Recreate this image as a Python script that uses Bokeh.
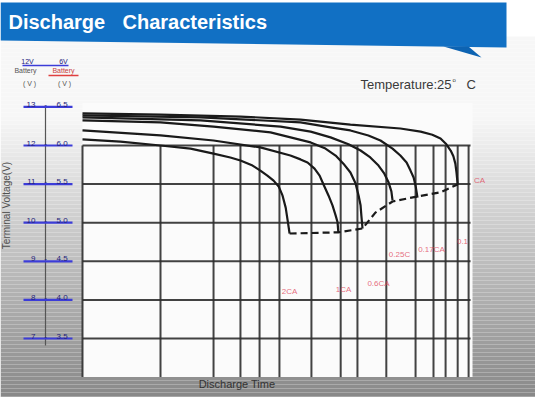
from bokeh.plotting import figure
from bokeh.models import Range1d
from bokeh.core.properties import value
from bokeh.embed import file_html
from bokeh.resources import INLINE

# ---------------- data ----------------
# voltage scale (12V battery) and matching 6V battery labels
volt_12v = [13, 12, 11, 10, 9, 8, 7]
label_12v = ["13", "12", "11", "10", "9", "8", "7"]
label_6v = ["6.5", "6.0", "5.5", "5.0", "4.5", "4.0", "3.5"]
grid_volts = [12, 11, 10, 9, 8, 7]

# discharge-time grid (relative log-time position, 0..100)
time_grid = [20, 33.6, 40.5, 45.4, 50.5, 58.7, 66.2, 70.5, 77.9, 85.4, 90, 93.1, 96.2, 99]

# discharge curves: time position / terminal voltage (12V battery)
t_2ca = [0, 9.7, 20, 27.7, 33.6, 37.9, 40.5, 43.6, 45.6, 47.4, 49.0, 50.3, 51.3, 52.1, 52.6, 53.1]
v_2ca = [12.16, 12.10, 12.0, 11.92, 11.79, 11.69, 11.61, 11.48, 11.35, 11.22, 11.09, 10.94, 10.70, 10.39, 10.06, 9.72]
t_1ca = [0, 20, 33.6, 45.6, 53.3, 55.9, 57.7, 59.5, 60.8, 61.8, 63.1, 64.1, 64.9, 65.4, 65.6]
v_1ca = [12.39, 12.26, 12.13, 11.95, 11.74, 11.64, 11.56, 11.40, 11.22, 10.99, 10.70, 10.45, 10.19, 10.01, 9.75]
t_06ca = [0, 20, 33.6, 48.2, 58.5, 62.3, 64.9, 66.9, 68.7, 70.0, 70.8, 71.3, 71.5, 71.8]
v_06ca = [12.65, 12.60, 12.49, 12.34, 12.08, 11.92, 11.74, 11.53, 11.30, 11.02, 10.70, 10.45, 10.19, 9.85]
t_025ca = [0, 30.3, 50.8, 58.5, 63.6, 68.2, 71.3, 73.8, 75.9, 77.4, 78.5, 79.2, 79.5]
v_025ca = [12.73, 12.65, 12.49, 12.36, 12.21, 12.03, 11.87, 11.69, 11.48, 11.27, 11.04, 10.81, 10.58]
t_017ca = [0, 30.3, 55.9, 63.6, 68.7, 73.3, 76.4, 79.5, 81.5, 83.1, 84.1, 84.9, 85.4, 85.9]
v_017ca = [12.78, 12.73, 12.60, 12.47, 12.39, 12.26, 12.13, 11.92, 11.74, 11.56, 11.35, 11.17, 10.96, 10.65]
t_01ca = [0, 20, 40.5, 55.9, 68.7, 81.5, 86.7, 89.7, 91.8, 93.3, 94.4, 95.1, 95.6, 95.9, 96.2]
v_01ca = [12.83, 12.80, 12.75, 12.67, 12.54, 12.44, 12.36, 12.28, 12.18, 12.03, 11.87, 11.72, 11.53, 11.30, 10.99]

# final discharge voltage (dashed)
t_final = [53.1, 65.6, 71.8, 75.1, 79.5, 85.9, 91.8, 96.2]
v_final = [9.72, 9.75, 9.85, 10.26, 10.55, 10.68, 10.79, 10.99]

# curve labels
rate_labels = ["2CA", "1CA", "0.6CA", "0.25C", "0.17CA", "0.1", "CA"]

# ---------------- layout helpers (picture pixel -> data) ----------------
def ux(px):
    return (px - 82) / 3.9

def vy(py):
    return 12 - (py - 145) / 38.6

W, H = 535, 397
p = figure(width=W, height=H, output_backend="svg", toolbar_location=None,
           x_range=Range1d(ux(0), ux(W)), y_range=Range1d(vy(H), vy(0)),
           x_axis_type=None, y_axis_type=None, min_border=0)
p.outline_line_color = None
p.background_fill_color = "white"
p.border_fill_color = "white"
p.grid.visible = False

FONT = value("Liberation Sans")

# background gradient
strip_l, strip_r, strip_t, strip_b, strip_c = [], [], [], [], []
y = 36
while y < 400:
    if y < 115:
        g = 247
    else:
        g = int(247 - (y - 115) * (247 - 136) / (397 - 115))
    strip_l.append(ux(0)); strip_r.append(ux(540))
    strip_t.append(vy(y)); strip_b.append(vy(y + 4))
    strip_c.append("#%02x%02x%02x" % (g, g, g))
    y += 4
p.quad(left=strip_l, right=strip_r, top=strip_t, bottom=strip_b, fill_color=strip_c, line_color=None)

# banner
p.patch([ux(0), ux(506), ux(506), ux(0)], [vy(2), vy(2), vy(47), vy(40)],
        fill_color="#1170c4", line_color=None)
p.patch([ux(443), ux(481), ux(468)], [vy(46), vy(57), vy(46)],
        fill_color="#0d63b2", line_color=None)
p.text(x=[ux(8)], y=[vy(21)], text=["Discharge"], text_color="white",
       text_font=FONT, text_font_style="bold",
       text_font_size="20px", text_baseline="middle", text_align="left")
p.text(x=[ux(122)], y=[vy(21)], text=["Characteristics"], text_color="white",
       text_font=FONT, text_font_style="bold",
       text_font_size="20px", text_baseline="middle", text_align="left")

# plot box
p.quad(left=[0], right=[100], top=[13.1], bottom=[6.0], fill_color="#fbfbfb", line_color=None)

# grid
p.segment(x0=[0] * len(grid_volts), x1=[99.5] * len(grid_volts), y0=grid_volts, y1=grid_volts,
          line_color="#2e2e2e", line_width=2, line_alpha=0.9)
p.segment(x0=[0] + time_grid, x1=[0] + time_grid, y0=[6.0] * (len(time_grid) + 1),
          y1=[12] * (len(time_grid) + 1), line_color="#2e2e2e", line_width=2, line_alpha=0.9)

# curves
for t, v in [(t_2ca, v_2ca), (t_1ca, v_1ca), (t_06ca, v_06ca),
             (t_025ca, v_025ca), (t_017ca, v_017ca), (t_01ca, v_01ca)]:
    p.line(t, v, line_color="#1a1a1a", line_width=2.2, line_join="round")
p.line(t_final, v_final, line_color="#1a1a1a", line_width=2.2, line_dash="7 4", line_join="round")

# rate labels
lab_x = [ux(p_) for p_ in [289, 343, 378, 399, 431, 462, 479]]
lab_y = [vy(p_) for p_ in [291, 289, 283, 254, 249, 241, 180]]
p.text(x=lab_x, y=lab_y, text=rate_labels, text_color="#e0465c", text_alpha=0.8,
       text_font=FONT, text_font_size="8px",
       text_align="center", text_baseline="middle")

# left voltage scale
n = len(volt_12v)
p.segment(x0=[ux(45)], x1=[ux(45)], y0=[13], y1=[vy(345)], line_color="#555555", line_width=1.2)
p.segment(x0=[ux(23)] * n, x1=[ux(72)] * n, y0=volt_12v, y1=volt_12v,
          line_color="#3c3cd8", line_width=2.2)
p.text(x=[ux(35)] * n, y=volt_12v, text=label_12v, text_color="#22227a",
       text_font=FONT, text_font_size="8px",
       text_align="right", text_baseline="bottom")
p.text(x=[ux(45)] * n, y=volt_12v, text=["-"] * n, text_color="#22227a",
       text_font=FONT, text_font_size="8px",
       text_align="center", text_baseline="bottom")
p.text(x=[ux(56)] * n, y=volt_12v, text=label_6v, text_color="#22227a",
       text_font=FONT, text_font_size="8px",
       text_align="left", text_baseline="bottom")

# scale header
p.text(x=[ux(27), ux(63)], y=[vy(61)] * 2, text=["12V", "6V"], text_color="#22227a",
       text_font=FONT, text_font_size="7px",
       text_align="center", text_baseline="middle")
p.segment(x0=[ux(22)], x1=[ux(68)], y0=[vy(65)], y1=[vy(65)], line_color="#3c3cd8", line_width=1.5)
p.text(x=[ux(25)], y=[vy(70)], text=["Battery"], text_color="#555555",
       text_font=FONT, text_font_size="7px",
       text_align="center", text_baseline="middle")
p.text(x=[ux(63)], y=[vy(70)], text=["Battery"], text_color="#c84040",
       text_font=FONT, text_font_size="7px",
       text_align="center", text_baseline="middle")
p.segment(x0=[ux(48)], x1=[ux(78)], y0=[vy(75)], y1=[vy(75)], line_color="#e04040", line_width=1.5)
p.text(x=[ux(29), ux(64)], y=[vy(83)] * 2, text=["( V )", "( V )"], text_color="#555555",
       text_font=FONT, text_font_size="7px",
       text_align="center", text_baseline="middle")

# axis titles / notes
p.text(x=[ux(6)], y=[vy(205)], text=["Terminal Voltage(V)"], angle=1.5708,
       text_color="#505050", text_font=FONT, text_font_size="10px",
       text_align="center", text_baseline="middle")
p.text(x=[ux(238)], y=[vy(383)], text=["Discharge  Time"], text_color="#333333",
       text_font=FONT, text_font_size="11px",
       text_align="center", text_baseline="middle")
p.text(x=[ux(360)], y=[vy(84)], text=["Temperature:25"], text_color="#3a3a3a",
       text_font=FONT, text_font_size="13px",
       text_align="left", text_baseline="middle")
p.text(x=[ux(452)], y=[vy(79)], text=["o"], text_color="#3a3a3a",
       text_font=FONT, text_font_size="6px",
       text_align="left", text_baseline="middle")
p.text(x=[ux(466)], y=[vy(84)], text=["C"], text_color="#3a3a3a",
       text_font=FONT, text_font_size="13px",
       text_align="left", text_baseline="middle")

open("out.html", "w").write(file_html(p, INLINE))
